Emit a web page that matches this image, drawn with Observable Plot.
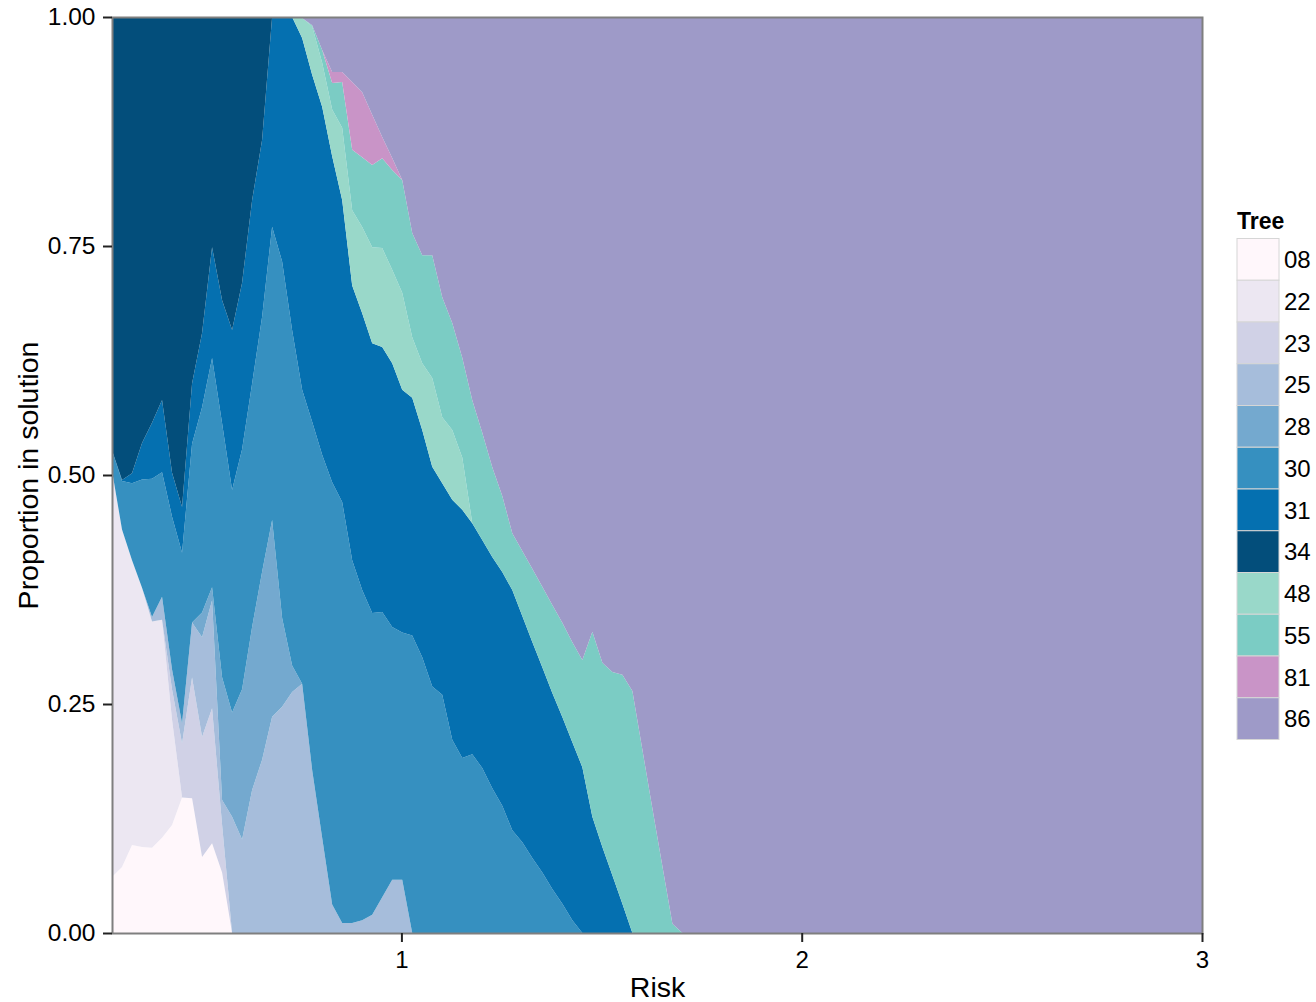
<!DOCTYPE html>
<html>
<head>
<meta charset="utf-8">
<script src="https://cdn.jsdelivr.net/npm/d3@7"></script>
<script src="https://cdn.jsdelivr.net/npm/@observablehq/plot@0.6"></script>
<style>
html, body { margin: 0; padding: 0; background: #fff; }
#chart { position: relative; width: 1316px; height: 1002px; }
</style>
</head>
<body>
<div id="chart"></div>
<script>
const trees = ["08","22","23","25","28","30","31","34","48","55","81","86"];
const treeColors = ["#fff7fb","#ece7f2","#d0d1e6","#a6bddb","#74a9cf","#3690c0","#0570b0","#034e7b","#99d8c9","#7bccc4","#c994c7","#9e9ac8"];

const risk = [
0.277,0.302,0.327,0.352,0.377,0.402,0.427,0.452,0.477,0.502,
0.527,0.552,0.577,0.602,0.627,0.652,0.677,0.702,0.727,0.752,
0.777,0.802,0.827,0.852,0.877,0.902,0.927,0.952,0.977,1.002,
1.027,1.052,1.077,1.102,1.127,1.152,1.177,1.202,1.227,1.252,
1.277,1.302,1.327,1.352,1.377,1.402,1.427,1.452,1.477,1.502,
1.527,1.552,1.577,1.602,1.627,1.652,1.677,1.702,1.727,2,
2.5,3];

const p08 = [
.061,.072,.096,.094,.093,.104,.118,.148,.147,.083,
.098,.066,0,0,0,0,0,0,0,0,
0,0,0,0,0,0,0,0,0,0,
0,0,0,0,0,0,0,0,0,0,
0,0,0,0,0,0,0,0,0,0,
0,0,0,0,0,0,0,0,0,0,
0,0];
const p22 = [
.444,.368,.311,.283,.247,.238,.115,0,0,0,
0,0,0,0,0,0,0,0,0,0,
0,0,0,0,0,0,0,0,0,0,
0,0,0,0,0,0,0,0,0,0,
0,0,0,0,0,0,0,0,0,0,
0,0,0,0,0,0,0,0,0,0,
0,0];
const p23 = [
0,0,0,0,0,0,.033,.059,.132,.131,
.147,.052,0,0,0,0,0,0,0,0,
0,0,0,0,0,0,0,0,0,0,
0,0,0,0,0,0,0,0,0,0,
0,0,0,0,0,0,0,0,0,0,
0,0,0,0,0,0,0,0,0,0,
0,0];
const p25 = [
0,0,0,0,.005,.025,.022,.022,.060,.109,
.118,.027,.127,.102,.156,.189,.236,.247,.263,.272,
.178,.104,.031,.011,.011,.014,.020,.039,.058,.058,
0,0,0,0,0,0,0,0,0,0,
0,0,0,0,0,0,0,0,0,0,
0,0,0,0,0,0,0,0,0,0,
0,0];
const p28 = [
0,0,0,0,0,0,0,0,0,.027,
.014,.134,.114,.164,.178,.205,.215,.097,.029,0,
0,0,0,0,0,0,0,0,0,0,
0,0,0,0,0,0,0,0,0,0,
0,0,0,0,0,0,0,0,0,0,
0,0,0,0,0,0,0,0,0,0,
0,0];
const p30 = [
.022,.053,.084,.118,.151,.136,.167,.186,.195,.224,
.250,.277,.243,.262,.266,.278,.320,.389,.366,.321,
.380,.418,.461,.460,.396,.360,.330,.311,.276,.270,
.325,.301,.269,.260,.211,.191,.195,.180,.158,.139,
.112,.099,.082,.066,.048,.032,.014,0,0,0,
0,0,0,0,0,0,0,0,0,0,
0,0];
const p31 = [
0,.001,.011,.040,.061,.079,.048,.050,.066,.081,
.121,.134,.175,.182,.200,.193,.229,.267,.342,.384,
.379,.380,.356,.330,.300,.302,.295,.289,.288,.265,
.260,.248,.240,.231,.262,.271,.252,.249,.252,.255,
.262,.247,.236,.224,.214,.204,.194,.181,.127,.094,
.063,.032,0,0,0,0,0,0,0,0,
0,0];
const p34 = [
.473,.505,.498,.465,.443,.418,.498,.535,.400,.345,
.251,.309,.342,.290,.200,.134,0,0,0,0,
0,0,0,0,0,0,0,0,0,0,
0,0,0,0,0,0,0,0,0,0,
0,0,0,0,0,0,0,0,0,0,
0,0,0,0,0,0,0,0,0,0,
0,0];
const p48 = [
0,0,0,0,0,0,0,0,0,0,
0,0,0,0,0,0,0,0,0,.022,
.053,.048,.051,.079,.082,.094,.105,.108,.102,.106,
.066,.073,.097,.072,.076,.057,0,0,0,0,
0,0,0,0,0,0,0,0,0,0,
0,0,0,0,0,0,0,0,0,0,
0,0];
const p55 = [
0,0,0,0,0,0,0,0,0,0,
0,0,0,0,0,0,0,0,0,0,
.001,.014,.029,.050,.066,.076,.090,.098,.109,.123,
.114,.118,.134,.131,.117,.109,.134,.117,.098,.083,
.062,.071,.080,.088,.096,.103,.109,.117,.202,.201,
.222,.250,.264,.200,.136,.073,.010,0,0,0,
0,0];
const p81 = [
0,0,0,0,0,0,0,0,0,0,
0,0,0,0,0,0,0,0,0,0,
0,0,.012,.011,.074,.071,.055,.023,.013,0,
0,0,0,0,0,0,0,0,0,0,
0,0,0,0,0,0,0,0,0,0,
0,0,0,0,0,0,0,0,0,0,
0,0];
const p86 = [
0,0,0,0,0,0,0,0,0,0,
0,0,0,0,0,0,0,0,0,.001,
.009,.036,.060,.060,.071,.082,.107,.131,.154,.178,
.236,.260,.260,.306,.334,.372,.418,.454,.491,.523,
.563,.583,.603,.622,.642,.662,.682,.702,.671,.705,
.715,.718,.735,.800,.864,.927,.990,1,1,1,
1,1];

const xTicks = [1, 2, 3];
const yTicks = [0, 0.25, 0.5, 0.75, 1];
const xLabel = "Risk";
const yLabel = "Proportion in solution";
const legendTitle = "Tree";

const series = {"08": p08, "22": p22, "23": p23, "25": p25, "28": p28, "30": p30,
  "31": p31, "34": p34, "48": p48, "55": p55, "81": p81, "86": p86};
const data = trees.flatMap(t => risk.map((r, i) => ({risk: r, tree: t, value: series[t][i]})));

const FONT = "'Liberation Sans', Arial, Helvetica, sans-serif";

const plot = Plot.plot({
  width: 1316,
  height: 1002,
  marginLeft: 112,
  marginRight: 114,
  marginTop: 17,
  marginBottom: 69,
  style: {fontFamily: FONT, fontSize: "24px", background: "#fff", color: "#000"},
  x: {domain: [0.277, 3]},
  y: {domain: [0, 1]},
  color: {domain: trees, range: treeColors},
  marks: [
    Plot.areaY(data, {x: "risk", y: "value", fill: "tree", order: trees, offset: "normalize"}),
    Plot.frame({stroke: "#7f7f7f", strokeWidth: 2}),
    Plot.axisX({ticks: xTicks, tickFormat: d => String(d), tickSize: 9, tickPadding: 8, strokeWidth: 2, stroke: "#222", fontSize: 24, label: null}),
    Plot.axisY({ticks: yTicks, tickFormat: d3.format(".2f"), tickSize: 9, tickPadding: 8, strokeWidth: 2, stroke: "#222", fontSize: 24.5, label: null}),
    Plot.text([xLabel], {text: d => d, frameAnchor: "bottom", dy: 54, fontSize: 28.5, lineAnchor: "middle", textAnchor: "middle", fill: "#000"}),
    Plot.text([yLabel], {text: d => d, frameAnchor: "left", dx: -84, rotate: -90, fontSize: 28.5, lineAnchor: "middle", textAnchor: "middle", fill: "#000"})
  ]
});

// Legend drawn on the right, from the same tree and color arrays
const svg = d3.select(plot);
const lg = svg.append("g").attr("font-family", FONT).attr("text-anchor", "start");
const keyX = 1237, keyTop = 238.5, keyW = 42, keyH = 41.75;
lg.append("text").attr("x", keyX).attr("y", 229).attr("font-size", 23).attr("font-weight", "bold").attr("fill", "#000").text(legendTitle);
trees.forEach((t, i) => {
  lg.append("rect").attr("x", keyX).attr("y", keyTop + i * keyH).attr("width", keyW).attr("height", keyH)
    .attr("fill", treeColors[i]).attr("stroke", "#d6d6d6").attr("stroke-width", 1);
  lg.append("text").attr("x", keyX + keyW + 5).attr("y", keyTop + i * keyH + keyH / 2).attr("dy", "0.36em")
    .attr("font-size", 24).attr("fill", "#000").text(t);
});

document.getElementById("chart").appendChild(plot);
</script>
</body>
</html>
